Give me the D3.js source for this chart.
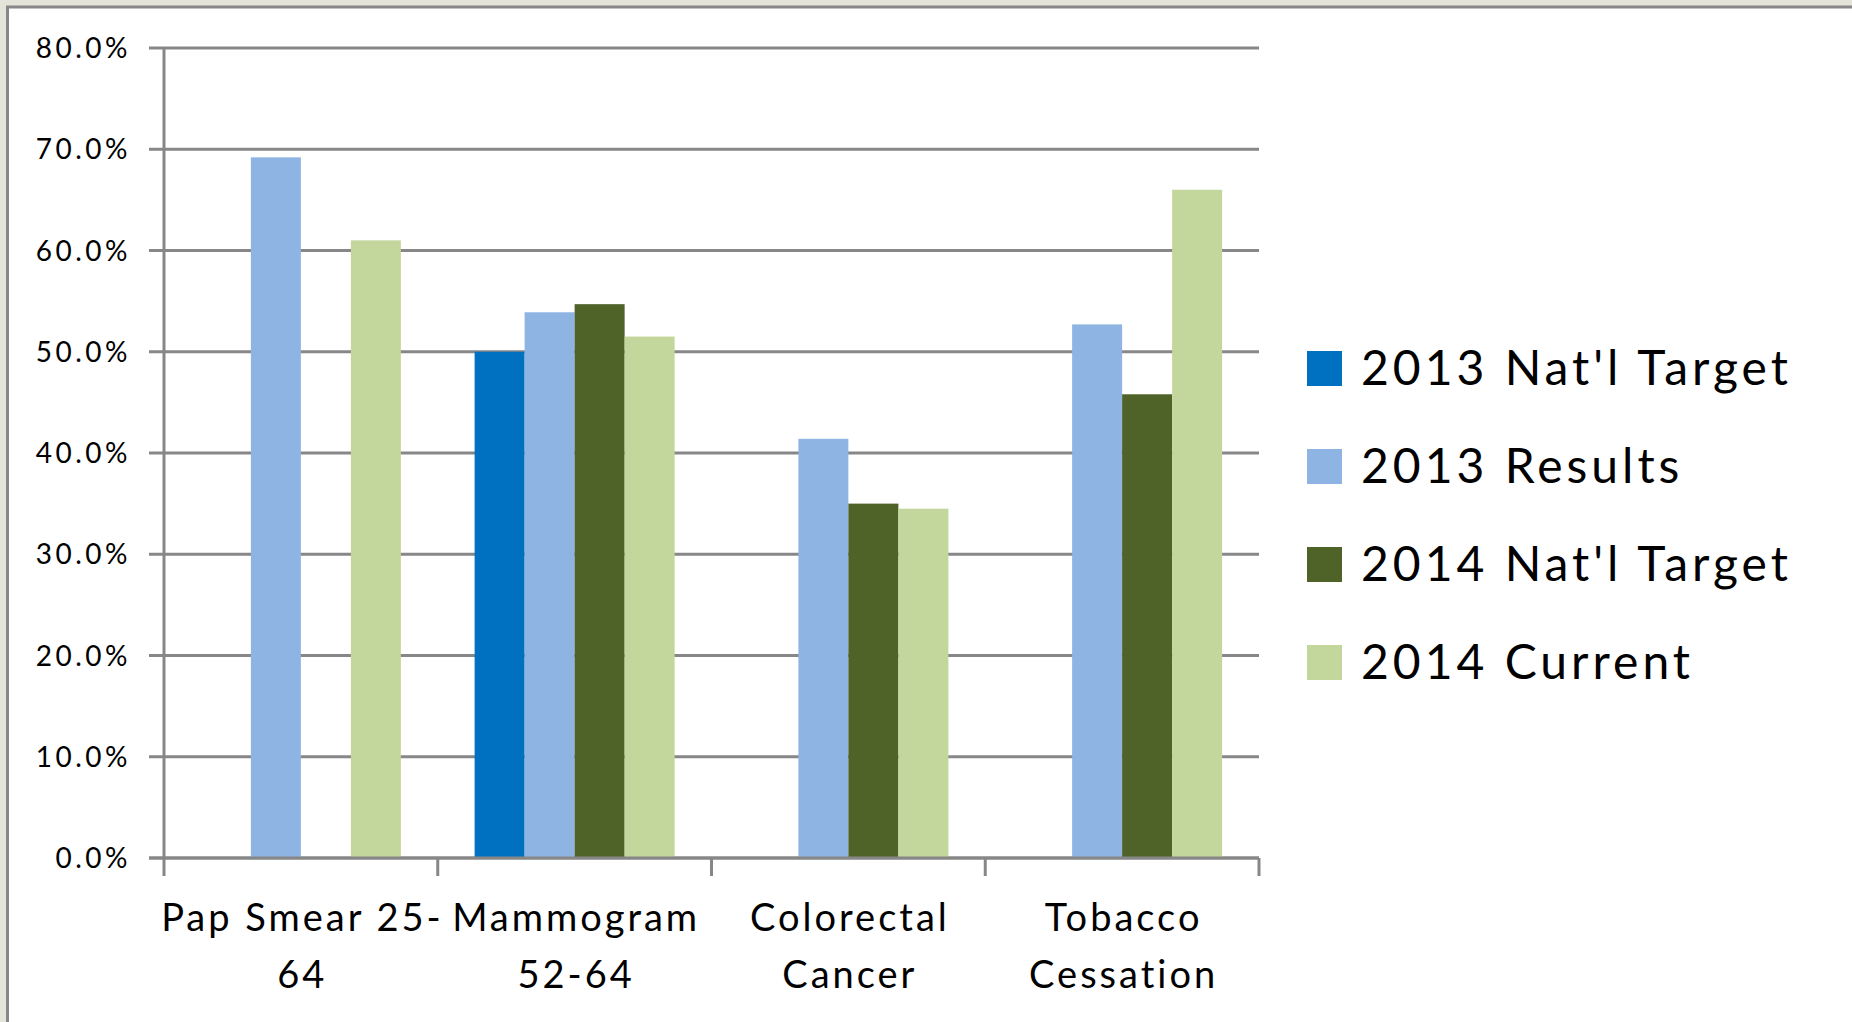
<!DOCTYPE html>
<html lang="en">
<head>
  <meta charset="UTF-8">
  <title>Preventive Screening Results</title>
  <script src="https://d3js.org/d3.v7.min.js"></script>
  <style>
    body {
      margin: 0;
      background: #e5e4da;
      font-family: Lato, "Open Sans", Arial, sans-serif;
    }
    svg {
      display: block;
    }
    .grid line {
      stroke: #878787;
      stroke-width: 3px;
    }
    .tick-label {
      font-size: 28px;
      letter-spacing: 3.5px;
      fill: #000;
    }
    .cat-label {
      font-size: 38px;
      letter-spacing: 3px;
      fill: #000;
    }
    .legend-text {
      font-size: 48px;
      letter-spacing: 4px;
      fill: #000;
    }
  </style>
</head>
<body>
  <svg width="1852" height="1022"></svg>

  <script>
    // data
    const categories = ["Pap Smear 25-64", "Mammogram 52-64", "Colorectal Cancer", "Tobacco Cessation"];
    const catLines = [["Pap Smear 25-", "64"], ["Mammogram", "52-64"], ["Colorectal", "Cancer"], ["Tobacco", "Cessation"]];
    const seriesNames = ["2013 Nat'l Target", "2013 Results", "2014 Nat'l Target", "2014 Current"];
    const seriesColors = ["#0070c0", "#8eb4e3", "#4f6228", "#c3d69b"];
    const target2013 = [null, 0.500, null, null];
    const results2013 = [0.692, 0.539, 0.414, 0.527];
    const target2014 = [null, 0.547, 0.350, 0.458];
    const current2014 = [0.610, 0.515, 0.345, 0.660];
    const yTicks = [0, 0.1, 0.2, 0.3, 0.4, 0.5, 0.6, 0.7, 0.8];

    const seriesValues = [target2013, results2013, target2014, current2014];

    const svg = d3.select("svg");

    // white chart area with grey frame
    svg.append("rect")
      .attr("x", 7.5).attr("y", 7)
      .attr("width", 1900).attr("height", 1100)
      .attr("fill", "#fff")
      .attr("stroke", "#878787")
      .attr("stroke-width", 3);

    const plotLeft = 164, plotRight = 1259, plotTop = 48, plotBottom = 858;

    const y = d3.scaleLinear().domain([0, 0.8]).range([plotBottom, plotTop]);
    const x0 = d3.scaleBand().domain(categories).range([plotLeft, plotRight]).padding(0);
    const x1 = d3.scaleBand().domain(seriesNames).range([0, x0.bandwidth()])
      .paddingInner(0).paddingOuter(0.7375);

    // horizontal gridlines
    const grid = svg.append("g").attr("class", "grid");
    grid.selectAll("line")
      .data(yTicks)
      .join("line")
      .attr("x1", plotLeft - 15)
      .attr("x2", plotRight)
      .attr("y1", d => y(d))
      .attr("y2", d => y(d));

    svg.append("g").selectAll("text")
      .data(yTicks)
      .join("text")
      .attr("class", "tick-label")
      .attr("x", 131)
      .attr("y", d => y(d))
      .attr("dy", "0.36em")
      .attr("text-anchor", "end")
      .text(d => d3.format(".1%")(d));

    // bars
    const rows = [];
    categories.forEach((c, ci) => {
      seriesNames.forEach((s, si) => {
        const v = seriesValues[si][ci];
        if (v != null) rows.push({ c, s, v, color: seriesColors[si] });
      });
    });

    svg.append("g").selectAll("rect")
      .data(rows)
      .join("rect")
      .attr("x", d => x0(d.c) + x1(d.s))
      .attr("y", d => y(d.v))
      .attr("width", x1.bandwidth())
      .attr("height", d => plotBottom - y(d.v))
      .attr("fill", d => d.color);

    // axis lines on top of bars
    const axis = svg.append("g").attr("class", "grid");
    axis.append("line")
      .attr("x1", plotLeft).attr("x2", plotLeft)
      .attr("y1", plotTop).attr("y2", plotBottom + 18);
    axis.append("line")
      .attr("x1", plotLeft - 15).attr("x2", plotRight)
      .attr("y1", plotBottom).attr("y2", plotBottom);
    axis.selectAll(".cat-tick")
      .data(categories.slice(1).map(c => x0(c)).concat([plotRight]))
      .join("line")
      .attr("class", "cat-tick")
      .attr("x1", d => d).attr("x2", d => d)
      .attr("y1", plotBottom).attr("y2", plotBottom + 18);

    // category labels
    svg.append("g").selectAll("text")
      .data(categories)
      .join("text")
      .attr("class", "cat-label")
      .attr("text-anchor", "middle")
      .attr("x", d => x0(d) + x0.bandwidth() / 2)
      .attr("y", 931)
      .each(function(d, i) {
        d3.select(this).selectAll("tspan")
          .data(catLines[i])
          .join("tspan")
          .attr("x", x0(d) + x0.bandwidth() / 2 + 1.5)
          .attr("dy", (t, j) => j === 0 ? 0 : 57)
          .text(t => t);
      });

    // legend
    const legend = svg.append("g").selectAll("g")
      .data(seriesNames)
      .join("g")
      .attr("transform", (d, i) => `translate(1307, ${368 + i * 98})`);

    legend.append("rect")
      .attr("x", 0).attr("y", -17)
      .attr("width", 35).attr("height", 35)
      .attr("fill", (d, i) => seriesColors[i]);

    legend.append("text")
      .attr("class", "legend-text")
      .attr("x", 54)
      .attr("dy", "0.36em")
      .text(d => d);
  </script>
</body>
</html>
